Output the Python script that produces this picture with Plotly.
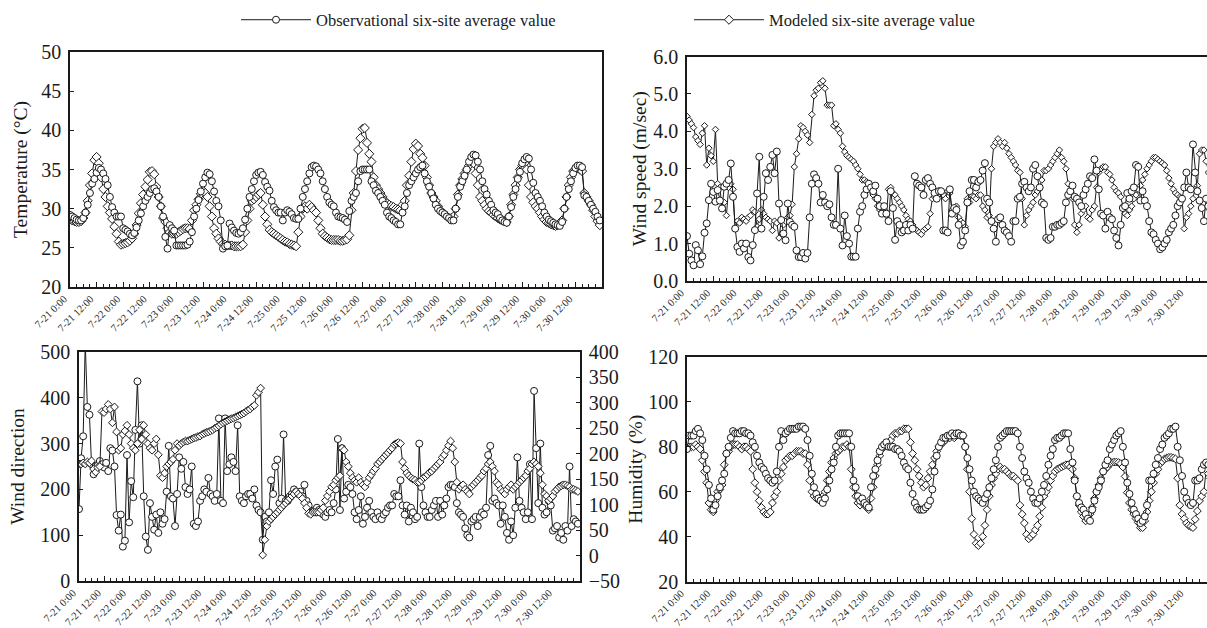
import pandas as pd
import plotly.graph_objects as go

# ---------------- data ----------------
times = pd.date_range("2013-07-21 00:00", periods=240, freq="h")
tick_times = pd.date_range("2013-07-21 00:00", periods=20, freq="12h")
tick_labels = [f"7-{t.day} {t.hour}:00" for t in tick_times]

temp_obs = [
    29.2, 29.0, 28.8, 28.6, 28.5, 28.5, 28.8, 29.5, 30.5, 32.0, 33.2, 33.8, 34.6, 35.2, 35.0, 34.5, 33.8, 33.0, 31.5, 30.2, 29.5, 29.0, 29.0, 29.0,
    27.5, 27.3, 27.1, 26.8, 26.6, 26.9, 27.6, 28.5, 29.4, 30.3, 31.0, 31.5, 32.0, 32.5, 32.6, 32.2, 31.5, 30.3, 29.0, 26.4, 24.9, 27.9, 27.5, 27.2,
    25.3, 25.3, 25.3, 25.3, 25.3, 25.4, 25.8, 27.0, 29.0, 30.0, 31.1, 32.2, 33.2, 34.0, 34.6, 34.4, 33.5, 32.2, 31.0, 30.3, 28.5, 24.9, 25.2, 25.3,
    28.1, 27.6, 27.2, 26.9, 26.8, 27.0, 27.5, 28.6, 30.0, 31.5, 32.5, 33.5, 34.3, 34.6, 34.7, 34.3, 33.4, 32.8, 32.3, 31.0, 30.2, 29.8, 29.5, 29.5,
    28.5, 29.5, 29.8, 29.6, 29.3, 28.8, 28.7, 28.7, 30.0, 31.5, 32.5, 33.5, 34.5, 35.3, 35.5, 35.4, 35.0, 34.5, 33.5, 32.5, 31.5, 30.8, 30.5, 30.3,
    29.5, 29.0, 28.9, 28.8, 28.6, 28.3, 29.7, 31.0, 31.5, 32.0, 33.5, 34.8, 35.0, 35.0, 35.0, 35.0, 33.5, 33.0, 32.3, 32.0, 31.5, 31.0, 30.5, 29.5,
    29.0, 28.8, 28.5, 28.3, 28.0, 28.0, 29.5, 30.3, 32.0, 33.0, 33.5, 34.0, 34.5, 35.0, 35.3, 35.5, 34.5, 33.5, 32.8, 32.0, 31.3, 30.5, 30.0, 29.7,
    29.5, 29.3, 29.0, 28.8, 28.5, 28.5, 30.0, 31.5, 32.8, 33.5, 34.2, 35.0, 36.0, 36.6, 36.9, 36.8, 36.0, 35.0, 33.5, 32.5, 31.8, 31.0, 30.5, 29.8,
    29.5, 29.3, 28.8, 28.5, 28.3, 28.2, 29.0, 30.2, 31.5, 32.5, 33.8, 34.7, 35.8, 36.3, 36.6, 36.4, 35.0, 33.3, 32.0, 31.5, 31.0, 30.3, 29.5, 29.0,
    28.6, 28.4, 28.2, 28.0, 27.9, 27.8, 28.3, 30.0, 31.5, 32.5, 33.5, 34.5, 35.2, 35.5, 35.5, 35.3, 31.7, 31.5, 31.0, 30.5, 30.0, 29.6, 29.0, 28.5,
]
temp_mod = [
    28.7, 28.5, 28.4, 28.3, 28.3, 28.4, 28.8, 29.5, 31.0, 33.0, 34.5, 36.2, 36.6, 35.8, 34.0, 32.5, 31.5, 30.3, 29.5, 28.7, 27.7, 26.8, 25.8, 25.4,
    25.5, 25.6, 25.7, 25.9, 26.2, 26.8, 27.9, 29.4, 30.7, 31.8, 32.8, 33.7, 34.7, 34.8, 34.4, 32.8, 31.5, 30.3, 28.8, 28.3, 27.5, 27.0, 26.8, 26.8,
    26.8, 27.0, 27.2, 27.4, 27.5, 27.5, 27.4, 28.5, 29.8, 30.5, 31.2, 31.9, 32.3, 32.0, 31.5, 30.3, 29.0, 27.5, 26.8, 26.2, 25.8, 25.5, 25.4, 25.3,
    25.3, 25.3, 25.2, 25.2, 25.2, 25.2, 25.4, 27.0, 28.5, 30.0, 31.0, 31.2, 31.5, 31.8, 32.0, 30.5, 29.0, 28.0, 27.3, 27.0, 26.8, 26.6, 26.4, 26.2,
    26.0, 25.8, 25.7, 25.5, 25.4, 25.3, 25.2, 27.0, 29.0, 30.0, 30.3, 30.0, 30.5, 30.2, 29.8, 29.5, 28.5, 27.5, 26.8, 26.5, 26.3, 26.1, 26.0, 26.0,
    26.0, 26.0, 25.9, 25.9, 26.0, 26.1, 26.6, 29.8, 32.0, 34.8, 37.5, 39.0, 40.2, 40.3, 38.4, 37.0, 36.0, 34.0, 33.0, 32.5, 32.0, 31.5, 31.0, 30.7,
    30.5, 30.3, 30.2, 30.0, 29.9, 29.8, 30.5, 31.0, 33.0, 34.2, 36.0, 37.6, 38.3, 38.0, 37.0, 36.5, 35.5, 34.0, 33.0, 32.0, 31.5, 31.0, 30.3, 29.8,
    29.5, 29.3, 29.0, 28.8, 28.8, 29.0, 30.0, 31.8, 33.0, 33.8, 34.5, 35.0, 35.5, 36.0, 35.8, 34.5, 33.0, 31.5, 31.0, 30.5, 30.0, 29.7, 29.5, 29.2,
    29.0, 28.8, 28.6, 28.5, 28.4, 28.3, 29.0, 30.5, 31.8, 33.0, 34.0, 35.0, 35.5, 35.8, 35.0, 33.0, 31.5, 30.8, 30.3, 30.0, 29.5, 29.0, 28.6, 28.3,
    28.2, 28.0, 27.9, 27.8, 27.9, 28.0, 28.5, 30.0, 31.5, 33.0, 34.0, 34.8, 35.0, 35.2, 35.0, 34.8, 32.0, 31.5, 31.0, 30.5, 29.8, 29.0, 28.4, 27.9,
]

ws_obs = [
    1.2, 0.73, 0.55, 0.42, 0.96, 0.82, 0.45, 0.66, 1.29, 1.54, 2.16, 2.6, 2.38, 2.12, 2.43, 2.15, 1.94, 2.52, 2.6, 2.7, 3.14, 2.25, 1.4, 0.91,
    0.78, 1.0, 0.87, 1.0, 0.64, 0.55, 0.96, 1.36, 2.34, 3.32, 1.4, 2.25, 2.88, 2.7, 3.05, 3.37, 2.88, 3.46, 2.07, 1.63, 1.27, 1.09, 2.07, 1.58,
    1.5, 1.45, 0.82, 0.64, 0.64, 0.75, 0.6, 0.75, 1.7, 2.6, 2.85, 2.75, 2.6, 2.1, 2.3, 2.1, 2.0, 2.05, 1.7, 1.5, 1.5, 3.0, 1.4, 0.95,
    1.75, 1.2, 1.0, 0.65, 0.65, 0.65, 1.4, 1.85, 2.0, 2.3, 2.45, 2.6, 2.5, 2.4, 2.55, 2.2, 2.0, 1.8, 2.0, 1.8, 1.6, 2.4, 1.95, 1.1,
    1.6, 1.5, 1.3, 1.35, 1.5, 1.35, 1.5, 1.4, 2.8, 2.6, 2.55, 2.5, 2.3, 2.7, 2.75, 2.6, 2.5, 2.35, 2.2, 2.4, 2.4, 1.35, 1.35, 1.3,
    2.45, 1.8, 1.95, 1.9, 1.5, 0.95, 1.05, 1.35, 2.1, 2.4, 2.7, 2.7, 2.5, 2.65, 2.7, 2.95, 3.15, 2.2, 2.1, 1.6, 1.4, 1.05, 1.65, 1.7,
    1.5, 1.35, 1.3, 1.2, 1.05, 1.6, 1.6, 2.2, 2.25, 2.6, 2.65, 2.5, 2.4, 2.5, 3.0, 3.1, 2.8, 2.5, 2.1, 2.05, 1.15, 1.1, 1.15, 1.45,
    1.45, 1.5, 1.5, 1.55, 1.6, 2.1, 2.3, 2.4, 2.55, 2.25, 2.2, 2.1, 2.0, 2.3, 2.45, 2.6, 2.8, 2.75, 3.25, 2.95, 2.45, 1.8, 1.75, 1.4,
    1.85, 1.7, 1.65, 1.35, 1.15, 0.95, 1.5, 1.95, 2.0, 2.35, 2.2, 2.4, 2.5, 3.1, 3.05, 2.15, 2.4, 2.15, 2.0, 1.6, 1.3, 1.25, 1.1, 1.0,
    0.85, 0.9, 1.0, 1.1, 1.3, 1.4, 1.5, 1.75, 2.0, 2.1, 2.2, 2.5, 2.9, 2.5, 2.45, 3.65, 2.9, 2.4, 2.15, 1.95, 1.6, 2.2, 2.0, 1.9,
]
ws_mod = [
    4.4, 4.3, 4.2, 4.1, 3.85, 3.75, 3.65, 3.95, 4.15, 3.1, 3.55, 3.35, 3.2, 4.05, 2.6, 2.5, 1.95, 2.1, 1.75, 2.5, 2.6, 2.45, 1.4, 1.6,
    1.55, 1.7, 1.65, 1.6, 1.7, 1.75, 1.9, 1.85, 1.45, 1.65, 1.9, 1.8, 1.7, 1.65, 1.6, 1.35, 1.6, 1.55, 1.15, 1.6, 1.5, 1.6, 1.7, 1.75,
    2.05, 3.05, 3.4, 3.8, 4.15, 4.1, 4.0, 3.9, 3.7, 4.45, 4.95, 5.1, 5.15, 5.3, 5.35, 5.15, 4.7, 4.7, 4.7, 4.15, 4.2, 4.05, 3.95, 3.6,
    3.45, 3.35, 3.3, 3.25, 3.2, 3.1, 3.0, 2.85, 2.7, 2.7, 2.65, 2.5, 2.4, 2.3, 2.2, 2.0, 1.9, 1.85, 1.9, 1.75, 2.45, 2.5, 2.35, 2.3,
    2.2, 2.1, 2.0, 1.9, 1.75, 1.65, 1.6, 1.5, 1.4, 1.35, 1.3, 1.25, 1.35, 1.4, 1.45, 1.8, 2.2, 2.25, 2.3, 2.3, 2.4, 2.3, 2.2, 2.4,
    2.35, 1.9, 1.85, 2.0, 1.7, 1.6, 1.55, 1.45, 2.2, 2.1, 2.3, 2.25, 2.2, 2.3, 2.3, 2.0, 1.9, 1.7, 1.75, 3.0, 3.6, 3.7, 3.8, 3.7,
    3.6, 3.7, 3.55, 3.4, 3.3, 3.2, 3.1, 2.95, 2.9, 2.2, 1.5, 1.75, 1.9, 2.0, 2.1, 2.3, 2.4, 2.5, 2.7, 2.95, 2.95, 3.0, 3.1, 3.2,
    3.3, 3.4, 3.5, 3.3, 3.2, 3.0, 2.6, 2.4, 2.2, 1.5, 1.3, 1.5, 1.8, 1.9, 2.0, 1.7, 1.65, 1.9, 2.0, 2.5, 2.9, 3.0, 3.05, 3.05,
    2.9, 2.85, 2.7, 2.5, 2.4, 2.35, 2.25, 2.0, 1.8, 1.75, 1.9, 2.0, 2.2, 2.3, 2.45, 2.55, 2.7, 2.85, 3.0, 3.1, 3.2, 3.3, 3.3, 3.25,
    3.2, 3.15, 3.1, 2.95, 2.75, 2.6, 2.45, 2.35, 2.3, 2.25, 2.2, 1.4, 1.7, 1.8, 2.0, 2.2, 2.45, 2.55, 3.4, 3.5, 3.5, 3.2, 2.9, 2.7,
]

# wind direction: observed on left axis (0-500), modeled on right axis (-50-400)
wd_obs = [
    157, 268, 316, 520, 380, 363, 255, 233, 250, 252, 262, 255, 248, 258, 240, 290, 285, 250, 144, 110, 145, 75, 88, 275,
    128, 218, 183, 330, 436, 300, 340, 185, 97, 68, 170, 140, 112, 145, 105, 150, 125, 135, 195, 295, 185, 180, 120, 190,
    270, 245, 260, 205, 190, 200, 250, 125, 120, 130, 175, 185, 200, 195, 225, 190, 185, 175, 190, 355, 175, 170, 355, 240,
    255, 270, 260, 240, 340, 185, 175, 170, 185, 190, 190, 180, 200, 165, 155, 150, 90, 140, 130, 150, 220, 190, 250, 265,
    170, 180, 320, 175, 175, 185, 190, 200, 195, 190, 195, 185, 210, 175, 165, 150, 150, 155, 160, 155, 150, 145, 140, 150,
    155, 150, 170, 200, 310, 155, 290, 180, 195, 210, 205, 190, 150, 135, 155, 185, 125, 140, 160, 175, 150, 140, 135, 150,
    140, 135, 145, 150, 160, 165, 165, 190, 185, 185, 220, 165, 145, 165, 130, 160, 150, 135, 140, 300, 205, 165, 150, 140,
    140, 155, 165, 175, 140, 175, 145, 165, 180, 205, 210, 210, 205, 170, 150, 145, 140, 115, 100, 95, 130, 135, 140, 120,
    140, 150, 145, 160, 275, 295, 175, 180, 170, 165, 125, 165, 140, 105, 90, 130, 100, 160, 270, 175, 160, 150, 135, 150,
    255, 135, 415, 290, 170, 300, 160, 145, 150, 175, 165, 110, 115, 120, 95, 105, 90, 120, 110, 250, 120, 135, 130, 125,
]
wd_mod = [
    180, 180, 182, 180, 184, 182, 186, 170, 164, 173, 175, 283, 281, 288, 297, 288, 261, 292, 243, 207, 211, 238, 245, 256,
    238, 220, 211, 207, 220, 247, 229, 256, 238, 220, 211, 207, 220, 229, 198, 157, 153, 162, 175, 180, 184, 189, 207, 220,
    216, 220, 223, 225, 225, 227, 229, 231, 232, 234, 235, 238, 240, 242, 243, 245, 247, 250, 252, 255, 258, 261, 263, 265,
    267, 269, 270, 272, 274, 276, 278, 280, 283, 286, 288, 292, 295, 315, 321, 329, 1, 31, 58, 67, 72, 76, 81, 85,
    90, 94, 99, 103, 108, 112, 117, 121, 126, 121, 117, 112, 103, 94, 83, 81, 85, 85, 85, 85, 90, 94, 108, 117,
    126, 135, 139, 148, 153, 157, 211, 207, 184, 175, 162, 153, 148, 144, 153, 144, 139, 135, 144, 153, 159, 166, 171, 180,
    184, 189, 193, 198, 202, 207, 211, 218, 220, 222, 220, 184, 171, 162, 157, 153, 150, 148, 144, 144, 148, 153, 155, 159,
    164, 166, 171, 175, 180, 184, 193, 198, 207, 216, 225, 211, 184, 144, 130, 135, 139, 130, 126, 121, 135, 139, 144, 148,
    153, 157, 166, 171, 180, 184, 175, 166, 144, 139, 130, 126, 121, 130, 135, 139, 130, 135, 139, 144, 148, 153, 157, 166,
    171, 180, 184, 180, 175, 162, 139, 121, 117, 108, 112, 117, 126, 130, 135, 137, 139, 139, 137, 135, 130, 130, 128, 126,
]

hum_obs = [
    79, 85, 85, 85, 87, 88, 86, 83, 76, 70, 63, 57, 52, 54, 58, 62, 65, 68, 77, 80, 84, 87, 86, 86,
    86, 87, 87, 86, 86, 85, 82, 80, 76, 73, 71, 70, 68, 66, 65, 64, 65, 69, 80, 87, 83, 86, 87, 88,
    88, 88, 88, 89, 89, 89, 88, 83, 76, 68, 62, 59, 57, 56, 55, 57, 61, 65, 70, 73, 80, 85, 86, 86,
    86, 86, 86, 80, 65, 62, 58, 56, 57, 55, 54, 53, 62, 67, 70, 74, 78, 80, 81, 82, 80, 80, 80, 79,
    79, 78, 76, 73, 71, 70, 64, 59, 55, 53, 52, 52, 52, 53, 54, 56, 61, 69, 76, 80, 82, 84, 84, 85,
    85, 86, 85, 86, 86, 85, 85, 80, 75, 70, 65, 60, 58, 57, 56, 55, 57, 59, 62, 66, 70, 74, 80, 84,
    85, 86, 87, 87, 87, 87, 87, 86, 80, 75, 69, 66, 64, 60, 57, 55, 55, 57, 60, 63, 67, 72, 76, 79,
    83, 84, 84, 85, 86, 86, 86, 79, 73, 65, 58, 55, 53, 52, 50, 48, 47, 52, 56, 60, 62, 65, 69, 72,
    74, 79, 81, 83, 85, 86, 87, 80, 73, 64, 59, 55, 52, 50, 48, 46, 47, 49, 54, 65, 65, 68, 72, 75,
    79, 81, 84, 85, 86, 88, 88, 89, 80, 74, 67, 60, 57, 55, 54, 55, 65, 65, 66, 70, 72, 73, 72, 71,
]
hum_mod = [
    79, 80, 80, 80, 81, 80, 79, 74, 69, 64, 55, 52, 51, 56, 60, 61, 63, 72, 77, 78, 80, 81, 81, 81,
    80, 79, 80, 80, 79, 78, 70, 64, 60, 56, 53, 51, 50, 50, 51, 55, 58, 60, 65, 68, 71, 74, 75, 76,
    76, 77, 78, 78, 78, 77, 77, 72, 65, 60, 58, 57, 57, 57, 58, 60, 65, 69, 73, 75, 77, 78, 79, 80,
    80, 81, 80, 70, 62, 58, 55, 54, 55, 55, 53, 52, 57, 62, 67, 72, 76, 79, 80, 81, 82, 83, 85, 86,
    86, 87, 87, 88, 88, 88, 82, 77, 74, 70, 67, 64, 62, 63, 66, 69, 72, 75, 78, 80, 81, 82, 83, 84,
    84, 85, 84, 85, 86, 85, 85, 80, 70, 60, 48, 41, 37, 36, 37, 40, 45, 52, 58, 63, 66, 68, 70, 71,
    70, 70, 69, 68, 67, 67, 66, 65, 54, 50, 46, 41, 39, 40, 41, 43, 45, 49, 53, 58, 60, 62, 65, 67,
    69, 70, 70.5, 71, 71.5, 72, 72, 71, 70, 66, 58, 54, 51, 49, 47, 48, 50, 53, 57, 60, 63, 66, 69, 70,
    71, 72.5, 73, 73.2, 73.2, 73, 72.5, 71, 66.8, 59.6, 55, 52, 50, 48, 46.3, 44, 44, 47, 51, 56, 60, 64, 68, 70,
    72.5, 73.5, 74.6, 75, 75.3, 75.3, 75, 74.6, 66, 54, 50, 48, 46, 45, 44.5, 44, 47.7, 51.4, 55.9, 58, 60, 70, 68, 66,
]

obs_name = "Observational six-site average value"
mod_name = "Modeled six-site average value"

# ---------------- layout helpers ----------------
W, H = 1207, 628
FONT = "Liberation Serif, Times New Roman, serif"
INK = "#1a1a1a"


def dom_x(left, right):
    return [left / W, min(right / W, 1.0)]


def dom_y(top, bottom):
    return [1 - bottom / H, 1 - top / H]


t0 = times[0]
full_end = t0 + pd.Timedelta(hours=240)
clip_end = t0 + pd.Timedelta(hours=237.4)


def xaxis(domain, anchor, end):
    return dict(
        domain=domain, anchor=anchor, type="date", range=[t0, end],
        tickmode="array", tickvals=list(tick_times), ticktext=tick_labels,
        tickangle=-45, tickfont=dict(size=10.5, family=FONT, color=INK),
        ticklabelshift=-6,
        ticks="inside", ticklen=5, tickwidth=1, tickcolor=INK,
        minor=dict(ticks="inside", ticklen=3, tickwidth=1, tickcolor=INK,
                   dtick=3 * 3600 * 1000, tick0=t0, showgrid=False),
        showline=True, linecolor=INK, linewidth=1.5, mirror=True,
        showgrid=False, zeroline=False, automargin=False, fixedrange=True,
    )


def yaxis(domain, anchor, rng, dtick, title, mirror=False, fmt=None, side="left",
          overlaying=None, standoff=8):
    d = dict(
        domain=domain, anchor=anchor, range=rng, dtick=dtick, tick0=rng[0],
        tickfont=dict(size=20, family=FONT, color=INK),
        ticks="inside", ticklen=4, tickwidth=1, tickcolor=INK,
        showline=True, linecolor=INK, linewidth=1.5, mirror=mirror,
        showgrid=False, zeroline=False, automargin=False, fixedrange=True,
        side=side, ticklabelstandoff=3,
    )
    if title:
        d["title"] = dict(text=title, font=dict(size=19.5, family=FONT, color=INK), standoff=standoff)
    if fmt:
        d["tickformat"] = fmt
    if overlaying:
        d["overlaying"] = overlaying
        d.pop("domain")
    return d


fig = go.Figure()


def add_series(y, xa, ya, kind, size, legend):
    is_obs = kind == "obs"
    fig.add_trace(go.Scatter(
        x=times, y=y, xaxis=xa, yaxis=ya, mode="lines+markers",
        name=obs_name if is_obs else mod_name,
        legendgroup=kind, showlegend=legend, legendrank=1 if is_obs else 2,
        line=dict(color=INK, width=1),
        marker=dict(symbol="circle" if is_obs else "diamond", size=size, color="white",
                    line=dict(color=INK, width=1)),
        cliponaxis=True,
    ))


# temperature
add_series(temp_mod, "x", "y", "mod", 7, True)
add_series(temp_obs, "x", "y", "obs", 7, True)
# wind speed
add_series(ws_mod, "x2", "y2", "mod", 5, False)
add_series(ws_obs, "x2", "y2", "obs", 7, False)
# wind direction
add_series(wd_obs, "x3", "y3", "obs", 7, False)
add_series(wd_mod, "x3", "y5", "mod", 6, False)
# humidity
add_series(hum_mod, "x4", "y4", "mod", 6, False)
add_series(hum_obs, "x4", "y4", "obs", 7, False)

fig.update_layout(
    width=W, height=H, autosize=False,
    margin=dict(l=0, r=0, t=0, b=0, pad=0),
    paper_bgcolor="white", plot_bgcolor="white",
    font=dict(family=FONT, color=INK),
    xaxis=xaxis(dom_x(70, 602), "y", full_end),
    yaxis=yaxis(dom_y(52, 287), "x", [20, 50], 5, "Temperature (°C)", mirror=True, standoff=8),
    xaxis2=xaxis(dom_x(687, 1212), "y2", clip_end),
    yaxis2=yaxis(dom_y(56.5, 281), "x2", [0, 6], 1, "Wind speed (m/sec)", fmt=".1f", standoff=1),
    xaxis3=xaxis(dom_x(79, 580), "y3", full_end),
    yaxis3=yaxis(dom_y(352, 581), "x3", [0, 500], 100, "Wind direction", standoff=10),
    yaxis5=yaxis(None, "x3", [-50, 400], 50, None, side="right", overlaying="y3"),
    xaxis4=xaxis(dom_x(687, 1212), "y4", clip_end),
    yaxis4=yaxis(dom_y(357, 581.5), "x4", [20, 120], 20, "Humidity (%)", standoff=0),
    showlegend=True,
    legend=dict(
        orientation="h", x=236 / W, xanchor="left", y=1 - 20 / H, yanchor="middle",
        font=dict(size=16.5, family=FONT, color=INK), itemwidth=70,
        entrywidth=368, entrywidthmode="pixels", bgcolor="rgba(0,0,0,0)",
        traceorder="normal", itemclick=False, itemdoubleclick=False,
    ),
)

fig.write_html("out.html")
